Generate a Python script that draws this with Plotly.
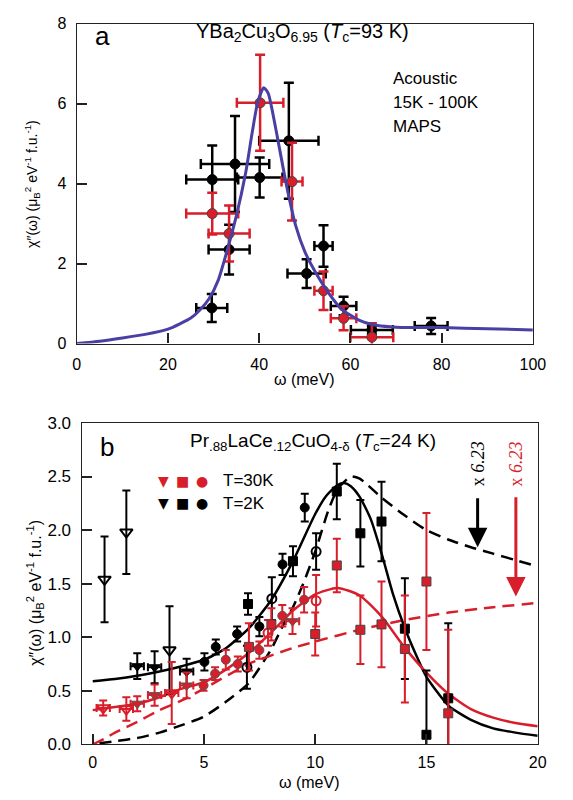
import plotly.graph_objects as go

# ---------------- Panel a data (YBa2Cu3O6.95) ----------------
a_black_x = [29.6, 29.7, 34.7, 33.4, 40.1, 46.5, 50.4, 54.1, 58.5, 64.7, 77.7]
a_black_y = [0.89, 4.10, 4.49, 2.35, 4.15, 5.07, 1.75, 2.44, 0.94, 0.34, 0.44]
a_black_xerr = [3.4, 5.7, 7.5, 4.5, 5.0, 6.5, 4.2, 2.0, 2.8, 4.6, 3.6]
a_black_yerr = [0.35, 0.85, 1.20, 0.62, 0.50, 1.45, 0.36, 0.52, 0.23, 0.10, 0.20]

a_red_x = [40.2, 47.2, 29.7, 33.4, 54.1, 58.5, 64.7]
a_red_y = [6.02, 4.05, 3.25, 2.75, 1.32, 0.63, 0.16]
a_red_xerr = [5.1, 2.3, 5.7, 4.5, 2.0, 2.8, 4.7]
a_red_yerr = [1.20, 0.97, 0.52, 0.70, 0.48, 0.30, 0.35]

a_fit_x = [0, 5, 10, 15, 20, 25, 27, 29, 31, 33, 35, 37, 38.5, 39.7, 41, 42, 43,
           44.5, 46, 48, 50, 52, 55, 58, 62, 66, 70, 80, 90, 100]
a_fit_y = [0, 0.06, 0.14, 0.23, 0.36, 0.64, 0.84, 1.12, 1.58, 2.34, 3.20, 4.25,
           5.30, 6.05, 6.40, 6.25, 5.75, 4.85, 3.95, 2.95, 2.30, 1.85, 1.30, 0.87,
           0.58, 0.45, 0.41, 0.40, 0.37, 0.34]

a_xticks = [0, 20, 40, 60, 80, 100]
a_yticks = [0, 2, 4, 6, 8]

# ---------------- Panel b data (Pr.88LaCe.12CuO4-d) ----------------
# T = 2K (black)
b2_tri_open_x = [0.53, 1.51, 3.45]
b2_tri_open_y = [1.54, 1.98, 0.88]
b2_tri_open_err = [0.40, 0.39, 0.41]
b2_tri_x = [2.0, 2.78, 4.22]
b2_tri_y = [0.73, 0.72, 0.68]
b2_tri_err = [0.12, 0.15, 0.12]
b2_circ_x = [5.02, 5.53, 6.49, 7.49, 8.53, 9.53]
b2_circ_y = [0.77, 0.91, 1.03, 1.10, 1.68, 2.21]
b2_circ_err = [0.08, 0.07, 0.07, 0.09, 0.10, 0.13]
b2_circ_open_x = [6.93, 8.05, 10.04]
b2_circ_open_y = [0.72, 1.36, 1.80]
b2_circ_open_err = [0.20, 0.20, 0.17]
b2_sq_x = [6.98, 9.0, 10.97, 12.03, 12.98, 14.03, 15.0, 15.98]
b2_sq_y = [1.31, 1.71, 2.36, 1.97, 2.08, 1.08, 0.09, 0.43]
b2_sq_err = [0.10, 0.14, 0.26, 0.31, 0.37, 0.47, 0.60, 0.70]

# T = 30K (red)
b30_tri_open_x = [0.47, 1.51, 3.55]
b30_tri_open_y = [0.34, 0.33, 0.48]
b30_tri_open_err = [0.07, 0.11, 0.29]
b30_tri_x = [2.0, 2.78, 4.22, 8.98]
b30_tri_y = [0.38, 0.46, 0.55, 1.15]
b30_tri_err = [0.07, 0.10, 0.12, 0.12]
b30_circ_x = [4.98, 5.5, 5.98, 6.52, 7.49, 8.52, 9.5]
b30_circ_y = [0.55, 0.66, 0.79, 0.75, 0.88, 1.20, 1.35]
b30_circ_err = [0.05, 0.06, 0.09, 0.07, 0.08, 0.10, 0.12]
b30_circ_open_x = [7.88, 10.04]
b30_circ_open_y = [1.04, 1.34]
b30_circ_open_err = [0.12, 0.24]
b30_sq_x = [7.02, 8.03, 10.0, 10.97, 12.03, 12.98, 14.03, 15.0, 15.98]
b30_sq_y = [0.91, 1.12, 1.03, 1.67, 1.07, 1.12, 0.89, 1.52, 0.29]
b30_sq_err = [0.22, 0.15, 0.20, 0.25, 0.32, 0.40, 0.50, 0.64, 0.78]

tri_xerr = 0.3

# Fit curves panel b
b2_fit_x = [0, 1, 2, 3, 4, 5, 6, 7, 8, 9, 10, 10.5, 11, 11.3, 11.6, 12, 12.5, 13,
            13.5, 14, 14.5, 15, 16, 17, 18, 19, 20]
b2_fit_y = [0.59, 0.61, 0.64, 0.68, 0.73, 0.79, 0.90, 1.08, 1.34, 1.71, 2.15, 2.32,
            2.42, 2.44, 2.41, 2.31, 2.10, 1.77, 1.40, 1.10, 0.85, 0.63, 0.36, 0.23,
            0.15, 0.11, 0.08]
b30_fit_x = [0, 1, 2, 3, 4, 5, 6, 7, 8, 9, 10, 11, 12, 13, 14, 15, 16, 17, 18, 19, 20]
b30_fit_y = [0.32, 0.35, 0.38, 0.44, 0.52, 0.58, 0.70, 0.85, 1.04, 1.25, 1.40, 1.46,
             1.39, 1.19, 0.91, 0.67, 0.47, 0.33, 0.25, 0.20, 0.17]
b2_dash_x = [0.3, 1, 2, 3, 4, 5, 6, 7, 8, 8.6, 9, 9.5, 10, 10.6, 11, 11.6, 12, 13,
             14, 15, 16, 17, 18, 19, 20]
b2_dash_y = [0.01, 0.03, 0.06, 0.11, 0.18, 0.26, 0.40, 0.57, 0.88, 1.13, 1.28, 1.52,
             1.80, 2.19, 2.38, 2.50, 2.48, 2.30, 2.14, 2.00, 1.91, 1.84, 1.78, 1.72, 1.66]
b30_dash_x = [0, 0.5, 1, 2, 3, 4, 5, 7, 9, 10, 12, 14, 16, 18, 20]
b30_dash_y = [0, 0.05, 0.11, 0.21, 0.32, 0.41, 0.52, 0.75, 0.90, 0.96, 1.07, 1.16,
              1.23, 1.28, 1.32]

b_xticks = [0, 5, 10, 15, 20]
b_yticks = [0.0, 0.5, 1.0, 1.5, 2.0, 2.5, 3.0]

# ---------------- styles ----------------
RED = "#d81e2a"
BLACK = "#000000"
BLUE = "#4a3fa3"
FONT = "Liberation Sans, Arial, sans-serif"

fig = go.Figure()


def pts(x, y, yerr, color, symbol, size, xref, yref, xerr=None, lw=1, lc=None, th=2, cw=4):
    kw = dict(
        x=x, y=y, mode="markers", xaxis=xref, yaxis=yref, showlegend=False,
        marker=dict(symbol=symbol, size=size, color=color,
                    line=dict(width=lw, color=lc if lc else color)),
        error_y=dict(type="data", array=yerr, color=color, thickness=th, width=cw),
    )
    if xerr is not None:
        kw["error_x"] = dict(type="data", array=xerr, color=color, thickness=th, width=cw)
    fig.add_trace(go.Scatter(**kw))


# Panel a
pts(a_black_x, a_black_y, a_black_yerr, BLACK, "circle", 10, "x", "y",
    xerr=a_black_xerr, th=2.5, cw=5)
pts(a_red_x, a_red_y, a_red_yerr, RED, "circle", 10, "x", "y",
    xerr=a_red_xerr, lc="#444", th=2.5, cw=5)
fig.add_trace(go.Scatter(x=a_fit_x, y=a_fit_y, mode="lines", xaxis="x", yaxis="y",
                         line=dict(color=BLUE, width=3, shape="spline", smoothing=0.6),
                         showlegend=False))

# Panel b lines
fig.add_trace(go.Scatter(x=b2_dash_x, y=b2_dash_y, mode="lines", xaxis="x2", yaxis="y2",
                         line=dict(color=BLACK, width=2.5, dash="12px,7px", shape="spline",
                                   smoothing=0.6), showlegend=False))
fig.add_trace(go.Scatter(x=b30_dash_x, y=b30_dash_y, mode="lines", xaxis="x2", yaxis="y2",
                         line=dict(color=RED, width=2.5, dash="12px,7px", shape="spline",
                                   smoothing=0.6), showlegend=False))
fig.add_trace(go.Scatter(x=b2_fit_x, y=b2_fit_y, mode="lines", xaxis="x2", yaxis="y2",
                         line=dict(color=BLACK, width=2.5, shape="spline", smoothing=0.6),
                         showlegend=False))
fig.add_trace(go.Scatter(x=b30_fit_x, y=b30_fit_y, mode="lines", xaxis="x2", yaxis="y2",
                         line=dict(color=RED, width=2.5, shape="spline", smoothing=0.6),
                         showlegend=False))

# Panel b points, T=2K
pts(b2_tri_open_x, b2_tri_open_y, b2_tri_open_err, BLACK, "triangle-down-open", 11, "x2", "y2", lw=2)
pts(b2_tri_x, b2_tri_y, b2_tri_err, BLACK, "triangle-down", 10, "x2", "y2",
    xerr=[tri_xerr] * len(b2_tri_x))
pts(b2_circ_x, b2_circ_y, b2_circ_err, BLACK, "circle", 9, "x2", "y2")
pts(b2_circ_open_x, b2_circ_open_y, b2_circ_open_err, BLACK, "circle-open", 9, "x2", "y2", lw=2)
pts(b2_sq_x, b2_sq_y, b2_sq_err, BLACK, "square", 9, "x2", "y2")

# Panel b points, T=30K
pts(b30_tri_open_x, b30_tri_open_y, b30_tri_open_err, RED, "triangle-down-open", 11, "x2", "y2",
    xerr=[tri_xerr] * len(b30_tri_open_x), lw=2)
pts(b30_tri_x, b30_tri_y, b30_tri_err, RED, "triangle-down", 10, "x2", "y2",
    xerr=[tri_xerr] * len(b30_tri_x), lc="#555")
pts(b30_circ_x, b30_circ_y, b30_circ_err, RED, "circle", 9, "x2", "y2", lc="#555")
pts(b30_circ_open_x, b30_circ_open_y, b30_circ_open_err, RED, "circle-open", 9, "x2", "y2", lw=2)
pts(b30_sq_x, b30_sq_y, b30_sq_err, RED, "square", 9, "x2", "y2", lc="#444")


def axis_common(fs, standoff):
    return dict(showline=True, mirror=True, linecolor="#222", linewidth=1.3,
                ticks="inside", ticklen=10, tickwidth=1.5, tickcolor="#222",
                showgrid=False, zeroline=False,
                tickfont=dict(family=FONT, size=fs, color="black"),
                ticklabelstandoff=standoff)


W, H = 573, 800
fig.update_layout(
    width=W, height=H, margin=dict(l=0, r=0, t=0, b=0),
    paper_bgcolor="white", plot_bgcolor="white",
    font=dict(family=FONT, color="black"),
    xaxis=dict(domain=[75 / W, 545 / W], range=[0, 100], tickvals=a_xticks,
               anchor="y", **axis_common(16, 6)),
    yaxis=dict(domain=[1 - 342.7 / H, 1 - 15 / H], range=[0, 8], tickvals=a_yticks,
               anchor="x", **axis_common(16, 6)),
    xaxis2=dict(domain=[80 / W, 550 / W], range=[-0.5, 20], tickvals=b_xticks,
                anchor="y2", **axis_common(16, 3)),
    yaxis2=dict(domain=[1 - 753.3 / H, 1 - 424 / H], range=[0, 3], tickvals=b_yticks,
                tickformat=".1f", anchor="x2", **axis_common(17, 6)),
)

ylab = "χ″(ω) (μ<sub>B</sub><sup>2</sup> eV<sup>-1</sup> f.u.<sup>-1</sup>)"
ann = []


def txt(text, xref, yref, x, y, size, color="black", family=FONT, xanchor="center",
        yanchor="middle", angle=0):
    ann.append(dict(text=text, xref=xref, yref=yref, x=x, y=y, xanchor=xanchor,
                    yanchor=yanchor, textangle=angle, showarrow=False,
                    font=dict(family=family, size=size, color=color)))


# axis titles
txt("ω (meV)", "paper", "paper", 310 / W, 1 - 380 / H, 16)
txt("ω (meV)", "paper", "paper", 315 / W, 1 - 792 / H, 16)
txt(ylab, "paper", "paper", 29 / W, 1 - 179 / H, 14, angle=-90)
txt(ylab, "paper", "paper", 32 / W, 1 - 598 / H, 16, angle=-90)

# panel a texts
txt("a", "x", "y", 5.7, 7.68, 26)
txt("YBa<sub>2</sub>Cu<sub>3</sub>O<sub>6.95</sub> (<i>T</i><sub>c</sub>=93 K)",
    "x", "y", 49.4, 7.78, 20)
for t, yy in [("Acoustic", 6.63), ("15K - 100K", 6.03), ("MAPS", 5.42)]:
    txt(t, "x", "y", 68.9, yy, 17, xanchor="left")

# panel b texts
txt("b", "x2", "y2", 0.63, 2.78, 26)
txt("Pr<sub>.88</sub>LaCe<sub>.12</sub>CuO<sub>4-δ</sub> (<i>T</i><sub>c</sub>=24 K)",
    "x2", "y2", 9.92, 2.82, 19)
# legend key (text)
for sym, xx in [("▼", 3.2), ("■", 4.03), ("●", 4.9)]:
    txt(sym, "x2", "y2", xx, 2.46, 14, color=RED, family="DejaVu Sans")
    txt(sym, "x2", "y2", xx, 2.25, 14, color=BLACK, family="DejaVu Sans")
txt("T=30K", "x2", "y2", 5.75, 2.46, 17, xanchor="left")
txt("T=2K", "x2", "y2", 5.75, 2.25, 17, xanchor="left")

# scale arrows and labels
for xx, col, tail, tip in [(17.3, BLACK, 2.31, 1.84), (19.02, RED, 2.32, 1.38)]:
    txt("x <i>6.23</i>", "x2", "y2", xx, 2.62, 18, color=col,
        family="Liberation Serif, Times New Roman, serif", angle=-90)
    ann.append(dict(text="", xref="x2", yref="y2", x=xx, y=tip, axref="x2", ayref="y2",
                    ax=xx, ay=tail, showarrow=True, arrowhead=2, arrowsize=1.3,
                    arrowwidth=3, arrowcolor=col))

fig.update_layout(annotations=ann)
fig.write_html("out.html")
